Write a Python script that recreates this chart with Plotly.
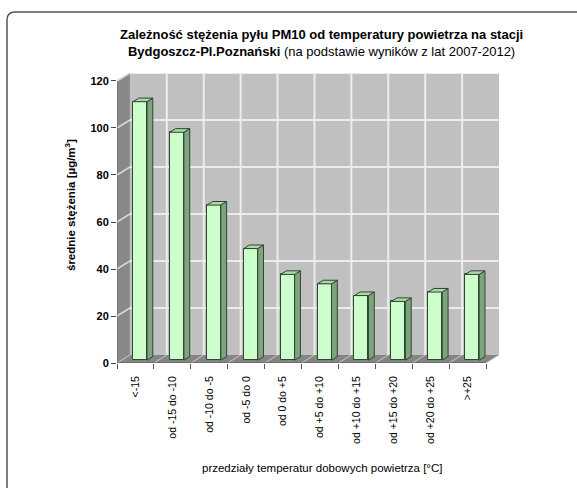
import plotly.graph_objects as go

# ---- data ----
categories = ["<-15", "od -15 do -10", "od -10 do -5", "od -5 do 0", "od 0 do +5",
              "od +5 do +10", "od +10 do +15", "od +15 do +20", "od +20 do +25", ">+25"]
values = [110, 97, 66, 47.5, 36.5, 32.5, 27.5, 25, 29, 36.5]
y_ticks = [0, 20, 40, 60, 80, 100, 120]

title_line1 = "Zależność stężenia pyłu PM10 od temperatury powietrza na stacji"
title_line2_bold = "Bydgoszcz-Pl.Poznański"
title_line2_rest = " (na podstawie wyników z lat 2007-2012)"
y_title = "średnie stężenia [µg/m<sup>3</sup>]"
x_title = "przedziały temperatur dobowych powietrza [°C]"

# ---- 3D look parameters (data units) ----
DX, DY = 0.35, 3.4      # full depth offset of the walls
F, BD, W = 0.35, 0.45, 0.38   # bar front depth, bar depth, bar width
YMAX = 120
FONT = "Arial, Liberation Sans, sans-serif"

n = len(values)
xs = list(range(n))
x0, x1 = -0.5, n - 0.5

fig = go.Figure()

# front faces of bars
fig.add_bar(x=[i + F * DX for i in xs], y=values, base=[F * DY] * n, width=W,
            marker=dict(color="#ccffcc", line=dict(color="#2f442f", width=1)),
            hoverinfo="skip", showlegend=False)

# side faces and top faces
sx, sy, tx, ty = [], [], [], []
for i, v in zip(xs, values):
    xl = i + F * DX - W / 2
    xr = i + F * DX + W / 2
    yb = F * DY
    yt = v + F * DY
    ox, oy = BD * DX, BD * DY
    sx += [xr, xr + ox, xr + ox, xr, xr, None]
    sy += [yb, yb + oy, yt + oy, yt, yb, None]
    tx += [xl, xr, xr + ox, xl + ox, xl, None]
    ty += [yt, yt, yt + oy, yt + oy, yt, None]
fig.add_scatter(x=sx, y=sy, mode="lines", fill="toself", fillcolor="#7da57d",
                line=dict(color="#2f442f", width=1), hoverinfo="skip", showlegend=False)
fig.add_scatter(x=tx, y=ty, mode="lines", fill="toself", fillcolor="#a9d9a9",
                line=dict(color="#2f442f", width=1), hoverinfo="skip", showlegend=False)

shapes = []
# back wall
shapes.append(dict(type="rect", xref="x", yref="y", x0=x0 + DX, x1=x1 + DX, y0=DY, y1=YMAX + DY,
                   fillcolor="#c0c0c0", line=dict(width=0), layer="below"))
# side wall
shapes.append(dict(type="path", xref="x", yref="y",
                   path=f"M{x0},0 L{x0+DX},{DY} L{x0+DX},{YMAX+DY} L{x0},{YMAX} Z",
                   fillcolor="#888888", line=dict(width=0), layer="below"))
# floor
shapes.append(dict(type="path", xref="x", yref="y",
                   path=f"M{x0},0 L{x1},0 L{x1+DX},{DY} L{x0+DX},{DY} Z",
                   fillcolor="#858585", line=dict(width=0), layer="below"))
# horizontal gridlines on back wall + side wall diagonals
for v in y_ticks[1:]:
    shapes.append(dict(type="line", xref="x", yref="y", x0=x0 + DX, x1=x1 + DX, y0=v + DY, y1=v + DY,
                       line=dict(color="#ececec", width=2), layer="below"))
    shapes.append(dict(type="line", xref="x", yref="y", x0=x0, x1=x0 + DX, y0=v, y1=v + DY,
                       line=dict(color="#d8d8d8", width=1.5), layer="below"))
# vertical gridlines on back wall + floor lines
for k in range(1, n):
    b = k - 0.5
    shapes.append(dict(type="line", xref="x", yref="y", x0=b + DX, x1=b + DX, y0=DY, y1=YMAX + DY,
                       line=dict(color="#ececec", width=2), layer="below"))
for k in range(0, n + 1):
    b = k - 0.5
    shapes.append(dict(type="line", xref="x", yref="y", x0=b, x1=b + DX, y0=0, y1=DY,
                       line=dict(color="#c8c8c8", width=1), layer="below"))
# front floor edge & front axis line
shapes.append(dict(type="line", xref="x", yref="y", x0=x0, x1=x1, y0=0, y1=0,
                   line=dict(color="#555555", width=1), layer="above"))
shapes.append(dict(type="line", xref="x", yref="y", x0=x0, x1=x0, y0=0, y1=YMAX,
                   line=dict(color="#666666", width=1), layer="above"))

# outer rounded border (only top/left visible)
L, T, Bp, Rp = 117, 73, 363, 499
pw, ph = Rp - L, Bp - T
def px(p): return (p - L) / pw
def py(p): return (Bp - p) / ph
bx0, by0, bx1, by1, rad = 7, 12, 610, 520, 8
shapes.append(dict(type="path", xref="paper", yref="paper",
                   path=(f"M{px(bx0)},{py(by1)} L{px(bx0)},{py(by0+rad)} "
                         f"Q{px(bx0)},{py(by0)} {px(bx0+rad)},{py(by0)} L{px(bx1)},{py(by0)}"),
                   line=dict(color="#555555", width=1.5)))

annotations = [
    dict(xref="paper", yref="paper", x=px(321), y=py(43), xanchor="center", yanchor="middle",
         text=f"<b>{title_line1}</b><br><b>{title_line2_bold}</b>{title_line2_rest}",
         showarrow=False, font=dict(family=FONT, size=13, color="black")),
    dict(xref="paper", yref="paper", x=px(70), y=py(205), xanchor="center", yanchor="middle",
         text=f"<b>{y_title}</b>", textangle=-90, showarrow=False,
         font=dict(family=FONT, size=11.5, color="black")),
    dict(xref="paper", yref="paper", x=px(322), y=py(468), xanchor="center", yanchor="middle",
         text=x_title, showarrow=False, font=dict(family=FONT, size=11.5, color="black")),
]

fig.update_layout(
    width=577, height=488, autosize=False,
    margin=dict(l=L, r=577 - Rp, t=T, b=488 - Bp),
    paper_bgcolor="white", plot_bgcolor="white",
    shapes=shapes, annotations=annotations, bargap=0,
    xaxis=dict(range=[x0, x1 + DX], tickmode="array", tickvals=xs, ticktext=categories,
               tickangle=-90, ticks="outside", ticklen=8, tickcolor="rgba(0,0,0,0)",
               showgrid=False, zeroline=False, showline=False, fixedrange=True,
               tickfont=dict(family=FONT, size=10.5, color="black"),
               minor=dict(tickvals=[k - 0.5 for k in range(n + 1)], ticks="outside",
                          ticklen=5, tickcolor="#555555", showgrid=False)),
    yaxis=dict(range=[0, YMAX + DY], tickmode="array", tickvals=y_ticks, ticks="outside",
               ticklen=5, tickcolor="#444444", showgrid=False, zeroline=False, showline=False,
               fixedrange=True, tickfont=dict(family=FONT, size=11, color="black", weight="bold")),
)

fig.write_html("out.html")
